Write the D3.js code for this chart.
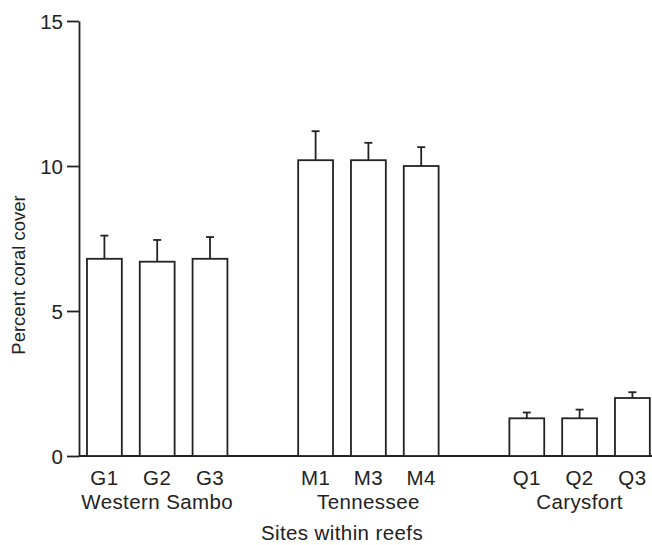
<!DOCTYPE html>
<meta charset="utf-8">
<style>
	body { margin: 0; background: #fff; }
	svg { font-family: "Liberation Sans", Arial, sans-serif; }
	.bar { fill: #fff; stroke: #222; stroke-width: 1.8; }
	.err { stroke: #222; stroke-width: 1.8; fill: none; }
	.axis path, .axis line { stroke: #222; stroke-width: 1.8; }
	.axis text { font-size: 20.5px; fill: #222; }
	.lbl { font-size: 20.5px; fill: #222; letter-spacing: 0.4px; }
</style>
<script src="https://d3js.org/d3.v7.min.js"></script>
<svg width="652" height="545" class="chart"></svg>
<script>
	var sites = ["G1", "G2", "G3", "M1", "M3", "M4", "Q1", "Q2", "Q3"];
	var cover = [6.8, 6.7, 6.8, 10.2, 10.2, 10.0, 1.3, 1.3, 2.0];
	var stderr = [0.8, 0.75, 0.75, 1.0, 0.6, 0.65, 0.2, 0.3, 0.2];
	var reefs = ["Western Sambo", "Tennessee", "Carysfort"];
	var reefSites = [["G1", "G2", "G3"], ["M1", "M3", "M4"], ["Q1", "Q2", "Q3"]];
	var yTicks = [0, 5, 10, 15];

	// empty slots keep the gap between reefs
	var slots = ["G1", "G2", "G3", "_a", "M1", "M3", "M4", "_b", "Q1", "Q2", "Q3"];

	var data = sites.map(function(s, i) {
		return {site: s, value: cover[i], se: stderr[i]};
	});

	var svg = d3.select(".chart"),
		x0 = 79, y0 = 456, yTop = 21;

	var x = d3.scaleBand()
		.domain(slots)
		.range([78, 658.8])
		.paddingInner(0.34)
		.paddingOuter(0.17);

	var y = d3.scaleLinear()
		.domain([0, 15])
		.range([y0, yTop]);

	// y axis
	svg.append("g")
		.attr("class", "axis axis--y")
		.attr("transform", "translate(" + x0 + ",0)")
		.call(d3.axisLeft(y).tickValues(yTicks).tickSize(12).tickSizeOuter(0).tickPadding(4))
		.call(function(g) { g.selectAll("text").attr("dy", "0.36em"); });

	// baseline
	svg.append("line")
		.attr("class", "err")
		.attr("x1", x0).attr("x2", 652)
		.attr("y1", y0).attr("y2", y0);

	var bars = svg.append("g").selectAll("g")
		.data(data)
		.enter().append("g");

	bars.append("line")
		.attr("class", "err")
		.attr("x1", function(d) { return x(d.site) + x.bandwidth() / 2; })
		.attr("x2", function(d) { return x(d.site) + x.bandwidth() / 2; })
		.attr("y1", function(d) { return y(d.value); })
		.attr("y2", function(d) { return y(d.value + d.se); });

	bars.append("line")
		.attr("class", "err")
		.attr("x1", function(d) { return x(d.site) + x.bandwidth() / 2 - 4; })
		.attr("x2", function(d) { return x(d.site) + x.bandwidth() / 2 + 4; })
		.attr("y1", function(d) { return y(d.value + d.se); })
		.attr("y2", function(d) { return y(d.value + d.se); });

	bars.append("rect")
		.attr("class", "bar")
		.attr("x", function(d) { return x(d.site); })
		.attr("y", function(d) { return y(d.value); })
		.attr("width", x.bandwidth())
		.attr("height", function(d) { return y0 - y(d.value); });

	// site labels
	svg.append("g").selectAll("text")
		.data(sites)
		.enter().append("text")
		.attr("class", "lbl")
		.attr("x", function(d) { return x(d) + x.bandwidth() / 2; })
		.attr("y", 485)
		.attr("text-anchor", "middle")
		.text(function(d) { return d; });

	// reef labels
	svg.append("g").selectAll("text")
		.data(reefs)
		.enter().append("text")
		.attr("class", "lbl")
		.attr("x", function(d, i) { return x(reefSites[i][1]) + x.bandwidth() / 2; })
		.attr("y", 509)
		.attr("text-anchor", "middle")
		.text(function(d) { return d; });

	svg.append("text")
		.attr("class", "lbl")
		.attr("x", 342)
		.attr("y", 540)
		.attr("text-anchor", "middle")
		.text("Sites within reefs");

	svg.append("text")
		.attr("transform", "rotate(-90)")
		.attr("x", -275)
		.attr("y", 25)
		.attr("text-anchor", "middle")
		.style("font-size", "18.5px")
		.style("fill", "#222")
		.text("Percent coral cover");
</script>
